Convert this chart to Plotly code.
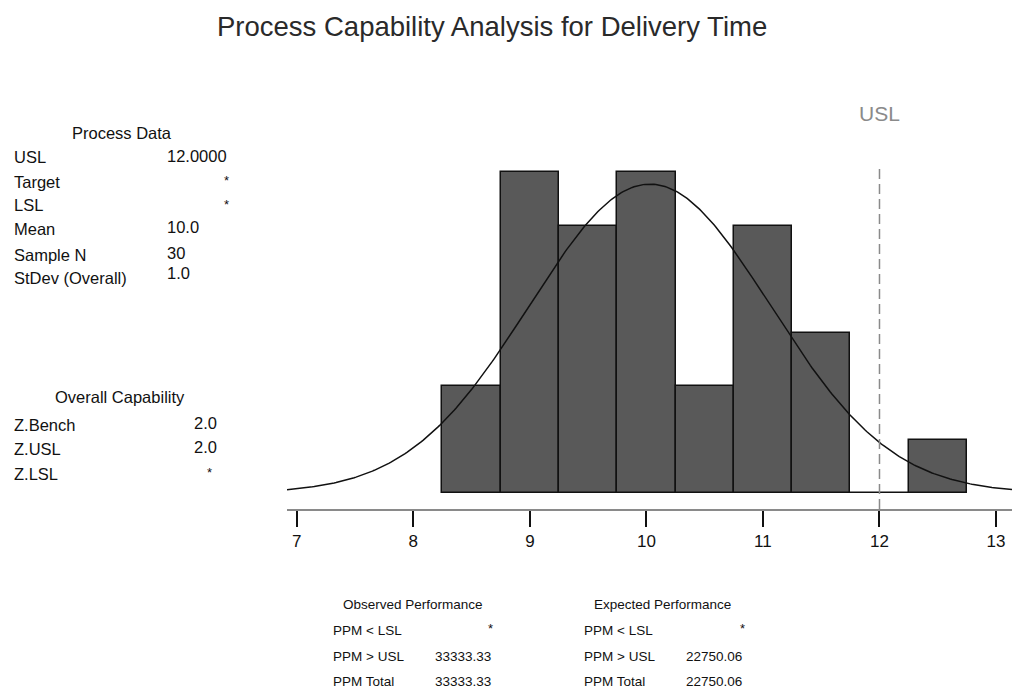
import numpy as np
import plotly.graph_objects as go

# ---------------- data ----------------
bin_centers = [8.5, 9.0, 9.5, 10.0, 10.5, 11.0, 11.5, 12.0, 12.5]
bin_counts = [2, 6, 5, 6, 2, 5, 3, 0, 1]
bin_width = 0.5
usl = 12.0
fit_mean = 10.03
fit_sd = 1.035
n_total = 30
x_ticks = [7, 8, 9, 10, 11, 12, 13]

process_labels = ["USL", "Target", "LSL", "Mean", "Sample N", "StDev (Overall)"]
process_values = ["12.0000", "*", "*", "10.0", "30", "1.0"]
overall_labels = ["Z.Bench", "Z.USL", "Z.LSL"]
overall_values = ["2.0", "2.0", "*"]
ppm_labels = ["PPM < LSL", "PPM > USL", "PPM Total"]
observed_values = ["*", "33333.33", "33333.33"]
expected_values = ["*", "22750.06", "22750.06"]

# ---------------- layout geometry ----------------
W, H = 1012, 698
L, R, T, B = 287, 0, 165, 189
PW, PH = W - L - R, H - T - B


def px(x):
    return (x - L) / PW


def py(y):
    return (H - B - y) / PH


FONT = "Liberation Sans, Arial, sans-serif"

fig = go.Figure()

fig.add_trace(go.Bar(
    x=bin_centers, y=bin_counts, width=bin_width,
    marker=dict(color="#595959", line=dict(color="#111111", width=1.5)),
    hoverinfo="skip", showlegend=False,
))

xs = np.linspace(6.916, 13.137, 400)
ys = n_total * bin_width * np.exp(-0.5 * ((xs - fit_mean) / fit_sd) ** 2) / (fit_sd * np.sqrt(2 * np.pi))
fig.add_trace(go.Scatter(
    x=xs, y=ys, mode="lines", line=dict(color="#111111", width=1.5),
    hoverinfo="skip", showlegend=False,
))

fig.add_shape(type="line", xref="x", yref="paper", x0=usl, x1=usl, y0=0, y1=1,
              line=dict(color="#8a8a8a", width=1.5, dash="10px,5px"))

ann = []


def text(s, x, y, size, anchor="left", color="#111111"):
    ann.append(dict(text=s, x=px(x), y=py(y), xref="paper", yref="paper",
                    xanchor=anchor, yanchor="middle", showarrow=False,
                    font=dict(family=FONT, size=size, color=color)))


text("Process Capability Analysis for Delivery Time", 492, 27, 27.5, "center", "#2a2a2a")
text("USL", 879, 114, 21, "center", "#8a8a8a")

# Process Data block
TS = 16.5
text("Process Data", 122, 133, TS, "center")
row_y = [157, 182, 205, 229, 255, 278]
val_y = [156, 180, 204, 227, 253, 273]
for lab, val, yy, vy in zip(process_labels, process_values, row_y, val_y):
    text(lab, 12, yy, TS)
    if val == "*":
        text(val, 226, vy, 13, "center")
    elif val == "12.0000":
        text(val, 229, vy, TS, "right")
    else:
        text(val, 165, vy, TS)

# Overall Capability block
text("Overall Capability", 120, 397, TS, "center")
for lab, val, yy in zip(overall_labels, overall_values, [425, 449, 474]):
    text(lab, 12, yy, TS)
    if val == "*":
        text(val, 209, yy - 2, 13, "center")
    else:
        text(val, 205, yy - 2, TS, "center")

# Observed / Expected performance
BS = 13.5
text("Observed Performance", 413, 604, BS, "center")
text("Expected Performance", 662, 604, BS, "center")
for lab, ov, ev, yy in zip(ppm_labels, observed_values, expected_values, [630, 656, 681]):
    text(lab, 331, yy, BS)
    text(lab, 582, yy, BS)
    if ov == "*":
        text(ov, 490, yy - 2, 13, "center")
    else:
        text(ov, 493, yy, BS, "right")
    if ev == "*":
        text(ev, 742, yy - 2, 13, "center")
    else:
        text(ev, 744, yy, BS, "right")

fig.update_layout(
    width=W, height=H,
    margin=dict(l=L, r=R, t=T, b=B, pad=0),
    paper_bgcolor="white", plot_bgcolor="white",
    annotations=ann,
    bargap=0,
    xaxis=dict(range=[6.916, 13.137], tickvals=x_ticks, ticktext=[str(t) for t in x_ticks],
               showline=True, linecolor="#8a8a8a", linewidth=2, ticks="outside",
               ticklen=16, tickwidth=2, tickcolor="#111111", showgrid=False, zeroline=False,
               tickfont=dict(family=FONT, size=17, color="#111111")),
    yaxis=dict(range=[-0.30, 6.14], visible=False, showgrid=False, zeroline=False),
)

fig.write_html("out.html")
